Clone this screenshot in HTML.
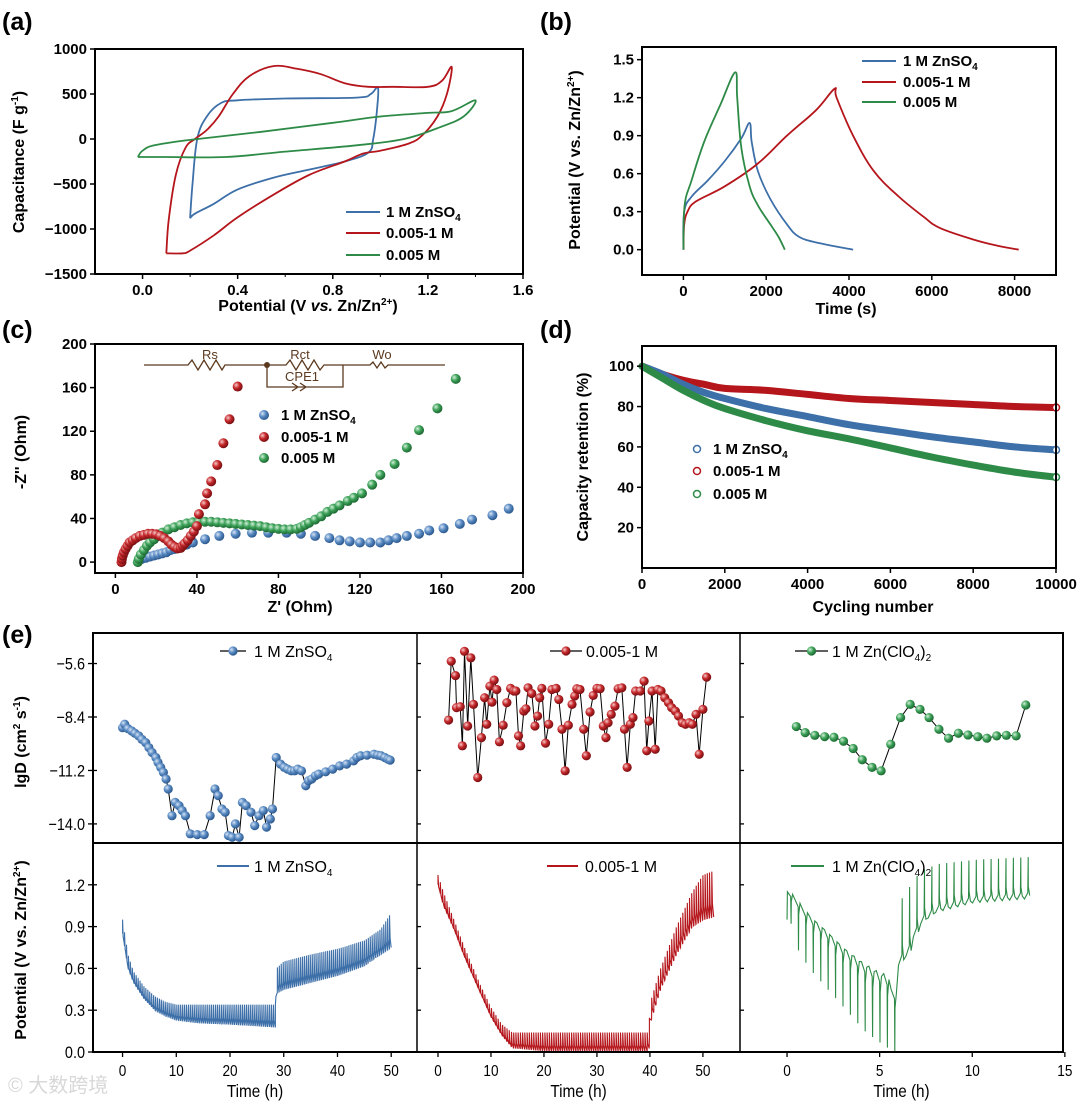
<!DOCTYPE html>
<html><head><meta charset="utf-8"><style>
html,body{margin:0;padding:0;background:#fff}
svg{display:block}
text{font-family:"Liberation Sans",Arial,sans-serif}
</style></head><body>
<svg id="fig" width="1080" height="1107" viewBox="0 0 1080 1107" xmlns="http://www.w3.org/2000/svg">
<defs>
<radialGradient id="gB" cx="35%" cy="35%" r="65%"><stop offset="0" stop-color="#d6e4f5"/><stop offset="0.5" stop-color="#5b8cc4"/><stop offset="1" stop-color="#2d5a90"/></radialGradient>
<radialGradient id="gR" cx="35%" cy="35%" r="65%"><stop offset="0" stop-color="#f5c9c9"/><stop offset="0.5" stop-color="#c6282b"/><stop offset="1" stop-color="#7a0f12"/></radialGradient>
<radialGradient id="gG" cx="35%" cy="35%" r="65%"><stop offset="0" stop-color="#d4f0da"/><stop offset="0.5" stop-color="#3ea35a"/><stop offset="1" stop-color="#1d6a33"/></radialGradient>
</defs>
<g id="root"></g>
</svg>
<script>
// ---------- DATA ----------
// (a) CV curves [V, F/g]
const cvBlue=[[0.2,-880],[0.21,-500],[0.23,0],[0.27,250],[0.33,400],[0.4,430],[0.6,450],[0.9,460],[0.96,500],[0.99,570],[0.985,300],[0.97,0],[0.95,-150],[0.85,-250],[0.7,-340],[0.55,-430],[0.4,-560],[0.3,-720],[0.22,-830],[0.2,-880]];
const cvRed=[[0.1,-1270],[0.11,-900],[0.14,-400],[0.18,-100],[0.22,0],[0.27,100],[0.32,250],[0.38,500],[0.45,700],[0.55,810],[0.65,780],[0.75,720],[0.85,620],[0.95,580],[1.05,580],[1.2,580],[1.26,650],[1.3,800],[1.28,500],[1.24,250],[1.18,50],[1.12,-50],[1.0,-130],[0.93,-160],[0.85,-250],[0.7,-400],[0.55,-620],[0.4,-870],[0.3,-1070],[0.2,-1240],[0.17,-1270],[0.1,-1270]];
const cvGreen=[[-0.02,-200],[0.0,-130],[0.05,-70],[0.2,-10],[0.5,80],[0.8,180],[1.0,250],[1.2,290],[1.3,310],[1.4,430],[1.35,250],[1.25,130],[1.1,0],[0.9,-70],[0.6,-140],[0.35,-200],[0.1,-200],[-0.02,-200]];
// (b) GCD [s, V]
const gcdBlue=[[0,0],[20,0.3],[200,0.42],[600,0.55],[1000,0.7],[1400,0.88],[1600,1.0],[1650,0.85],[1800,0.62],[2100,0.4],[2500,0.2],[2800,0.1],[3300,0.05],[4100,0]];
const gcdRed=[[0,0],[20,0.2],[100,0.3],[300,0.38],[1000,0.5],[1800,0.68],[2500,0.9],[3200,1.1],[3650,1.27],[3700,1.2],[4100,0.9],[4600,0.62],[5200,0.42],[5800,0.26],[6200,0.17],[7000,0.08],[7600,0.03],[8100,0]];
const gcdGreen=[[0,0],[30,0.35],[200,0.55],[500,0.85],[900,1.15],[1250,1.4],[1300,1.2],[1400,0.8],[1600,0.5],[1800,0.35],[2100,0.2],[2300,0.1],[2450,0]];
// (c) Nyquist [Z', -Z'']
const eisBlue=[[13,3],[15,4],[17,5],[19,6],[21,7],[23,8],[25,9],[27,11],[29,12],[31,13],[33,15],[35,16],[38,18],[44,21],[51,24],[59,26],[67,27],[75,27],[84,27],[91,26],[98,24],[105,22],[110,20],[115,19],[120,18],[125,18],[130,18],[134,20],[138,22],[143,24],[149,26],[154,29],[161,31],[169,35],[175,39],[185,43],[193,49]];
const eisRed=[[3,0],[3.2,3],[3.6,6],[4.2,9],[5,12],[6,15],[7,18],[8.5,20],[10,22],[12,24],[14,25],[16,26],[18,26],[20,25.5],[22,24],[24,22],[26,19],[27.5,16],[29,14],[30.5,12.5],[32,13],[33,15],[34,17],[35.5,20],[37,24],[38.5,28],[40,33],[41,44],[44,53],[45,63],[47,74],[50,89],[53,109],[56,131],[60,161]];
const eisGreen=[[11,0],[11.5,3],[12.5,7],[14,11],[15.5,15],[17,18],[19,21],[21,24],[23,27],[26,30],[29,32],[32,34],[35,35.5],[38,36.5],[41,37],[44,37],[47,37],[50,36.5],[53,36],[56,35.5],[59,35],[62,34.5],[65,34],[68,33.5],[71,33],[74,32],[77,31],[80,30.5],[83,30],[86,30],[89,30.5],[91,32],[93,34],[95,36],[98,39],[101,42],[104,46],[107,49],[110,52],[114,56],[117,59],[121,63],[126,71],[130,80],[137,90],[143,105],[149,121],[158,141],[167,168]];
// (d) capacity retention
const cycles=[0,500,1000,1500,2000,3000,4000,5000,6000,7000,8000,9000,10000];
const retRed=[100,96,93,91,89,88,86,84,83,82,81,80,79.5];
const retBlue=[100,96,91,87,84,79,75,71,68,65,62.5,60,58.5];
const retGreen=[100,94,88,83,79,73,68,64,59.5,55,51,47.5,45];
// (e) lgD
const lgdBlueT=[0,0.4,1.0,1.7,2.3,3.0,3.6,4.3,4.9,5.5,6.2,6.6,7.1,7.6,8.1,8.5,9.2,9.8,10.5,11.1,11.7,12.6,13.9,15.2,16.3,17.2,17.8,18.5,19.1,19.7,20.4,21.0,21.7,22.3,23.0,23.9,24.6,25.4,26.2,26.8,27.5,27.9,28.6,29.4,30.1,30.7,31.4,32.0,32.6,33.3,34.1,34.6,35.2,35.9,36.5,37.8,39.1,40.4,41.7,43.0,43.6,44.3,45.5,46.8,47.5,48.1,48.8,49.4,49.8];
const lgdBlueV=[-8.96,-8.78,-9.01,-9.13,-9.25,-9.39,-9.57,-9.74,-10.0,-10.26,-10.52,-10.78,-11.04,-11.3,-11.65,-12.17,-13.57,-12.87,-13.04,-13.3,-13.57,-14.52,-14.56,-14.56,-13.57,-12.17,-12.52,-13.22,-13.39,-14.61,-14.7,-14.0,-14.7,-12.87,-13.04,-13.39,-14.09,-13.57,-13.3,-14.17,-13.74,-13.22,-10.52,-10.87,-11.04,-11.13,-11.22,-11.22,-11.13,-11.22,-12.0,-11.74,-11.65,-11.48,-11.39,-11.27,-11.13,-10.96,-10.87,-10.7,-10.52,-10.43,-10.4,-10.35,-10.4,-10.43,-10.52,-10.61,-10.66];
const lgdRedT=[2.0,2.5,3.3,3.5,4.2,4.6,5.0,5.6,6.2,6.7,7.5,8.2,8.8,9.2,9.8,10.2,10.6,11.1,11.6,12.3,13.0,13.7,14.3,14.7,15.2,15.6,16.2,16.6,17.0,17.7,18.3,18.8,19.2,19.6,20.3,20.9,21.5,22.3,22.8,23.4,24.0,24.6,25.3,25.8,26.2,26.8,27.5,28.0,28.7,29.3,30.0,30.6,31.2,31.7,32.1,32.7,33.4,34.0,34.7,35.2,35.7,36.3,36.8,37.3,38.2,38.9,39.4,39.8,40.4,41.0,41.5,42.1,42.8,43.5,44.1,44.8,45.4,46.1,46.7,47.4,48.0,48.7,49.3,50.0,50.7];
const lgdRedV=[-8.56,-5.48,-6.23,-7.91,-7.86,-9.91,-4.96,-8.87,-5.3,-7.74,-11.57,-9.48,-7.39,-8.78,-6.78,-7.62,-6.47,-6.96,-9.7,-8.83,-7.65,-6.9,-7.04,-7.04,-9.39,-9.91,-8.09,-7.97,-6.87,-7.17,-8.87,-8.35,-7.39,-6.9,-9.77,-8.78,-6.96,-6.9,-7.48,-9.04,-11.22,-8.83,-7.74,-7.3,-6.92,-6.96,-9.04,-10.43,-8.14,-7.27,-6.9,-6.92,-8.87,-9.48,-8.7,-8.26,-7.83,-6.92,-6.87,-9.04,-11.04,-8.78,-8.43,-7.04,-7.04,-6.52,-10.17,-8.61,-7.04,-10.09,-6.96,-7.04,-7.39,-7.65,-7.91,-8.09,-8.35,-8.7,-8.78,-8.7,-8.78,-8.26,-10.35,-8.0,-6.31];
const lgdGreenT=[0.5,0.98,1.5,2.03,2.53,3.05,3.57,4.06,4.59,5.08,5.6,6.13,6.65,7.18,7.67,8.2,8.72,9.25,9.77,10.3,10.79,11.32,11.84,12.37,12.89];
const lgdGreenV=[-8.9,-9.22,-9.36,-9.43,-9.46,-9.67,-10.05,-10.64,-11.04,-11.22,-9.83,-8.43,-7.74,-8.0,-8.43,-9.04,-9.51,-9.25,-9.34,-9.43,-9.51,-9.39,-9.36,-9.39,-7.77];
// (e) GITT envelopes
const gittBlueT=[0,1,2,4,6,8,10,14,20,28.5,28.6,30,35,40,45,48,50];
const gittBlueHi=[0.95,0.7,0.58,0.47,0.4,0.36,0.34,0.34,0.34,0.34,0.6,0.65,0.7,0.74,0.8,0.88,1.0];
const gittBlueLo=[0.85,0.6,0.5,0.38,0.3,0.26,0.23,0.21,0.2,0.18,0.42,0.45,0.5,0.55,0.62,0.7,0.75];
const gittRedT=[0,1,3,5,8,10,12,14,20,30,39.8,40,42,45,48,50,52];
const gittRedHi=[1.27,1.15,0.95,0.75,0.48,0.32,0.2,0.14,0.14,0.14,0.14,0.35,0.6,0.9,1.15,1.27,1.3];
const gittRedLo=[1.2,1.05,0.88,0.68,0.42,0.25,0.12,0.03,0.01,0.01,0.01,0.2,0.45,0.7,0.9,0.95,0.97];
const gittGreenT=[0,0.1,1,2,3,4,5,5.6,5.65,6,6.5,7,8,10,13];
const gittGreenRest=[1.15,1.15,1.0,0.88,0.75,0.65,0.57,0.55,0.3,0.62,0.7,0.9,1.0,1.07,1.1];
const gittGreenPeak=[0.95,0.8,0.6,0.45,0.3,0.15,0.05,0.0,0.0,1.1,1.2,1.3,1.35,1.38,1.4];

// ---------- HELPERS ----------
const NS='http://www.w3.org/2000/svg';
const root=document.getElementById('root');
function el(tag,attrs,parent,txt){const e=document.createElementNS(NS,tag);for(const k in attrs)e.setAttribute(k,attrs[k]);if(txt!==undefined)e.textContent=txt;(parent||root).appendChild(e);return e;}
function lin(d0,d1,p0,p1){return v=>p0+(v-d0)/(d1-d0)*(p1-p0);}
function interp(ts,vs,t){if(t<=ts[0])return vs[0];for(let i=1;i<ts.length;i++){if(t<=ts[i]){const f=(t-ts[i-1])/(ts[i]-ts[i-1]);return vs[i-1]+f*(vs[i]-vs[i-1]);}}return vs[vs.length-1];}
const C={blue:'#3d6fa8',red:'#b5161c',green:'#2e8b47'};
function box(x0,y0,x1,y1,name,sw){const r=el('rect',{x:x0,y:y0,width:x1-x0,height:y1-y0,fill:'none',stroke:'#000','stroke-width':sw||2});return r;}
function txt(x,y,s,opt){const o=Object.assign({'font-size':15,'font-weight':'bold','text-anchor':'middle',fill:'#000'},opt||{});const t=el('text',Object.assign({x:x,y:y},o));t.innerHTML=s;return t;}
function pathFrom(pts,sx,sy){return pts.map((p,i)=>(i?'L':'M')+sx(p[0]).toFixed(1)+','+sy(p[1]).toFixed(1)).join('');}
function smoothPath(pts,sx,sy){const P=pts.map(p=>[sx(p[0]),sy(p[1])]);let d='M'+P[0][0].toFixed(1)+','+P[0][1].toFixed(1);
 for(let i=0;i<P.length-1;i++){const p0=P[Math.max(0,i-1)],p1=P[i],p2=P[i+1],p3=P[Math.min(P.length-1,i+2)];const t=0.18;
 const c1=[p1[0]+(p2[0]-p0[0])*t,p1[1]+(p2[1]-p0[1])*t],c2=[p2[0]-(p3[0]-p1[0])*t,p2[1]-(p3[1]-p1[1])*t];
 d+='C'+c1[0].toFixed(1)+','+c1[1].toFixed(1)+' '+c2[0].toFixed(1)+','+c2[1].toFixed(1)+' '+p2[0].toFixed(1)+','+p2[1].toFixed(1);}return d;}

// ---------- PANEL A ----------
(function(){
const g=el('g',{});
const X0=95,X1=523,Y0=49,Y1=274;const sx=lin(-0.2,1.6,X0,X1),sy=lin(-1500,1000,Y1,Y0);
[[cvBlue,C.blue,'cv-1m-znso4'],[cvRed,C.red,'cv-0005-1m'],[cvGreen,C.green,'cv-0005m']].forEach(s=>{const p=el('path',{d:smoothPath(s[0],sx,sy),fill:'none',stroke:s[1],'stroke-width':1.8,'stroke-linejoin':'round'},g);});
box(X0,Y0,X1,Y1,'panel-a-frame');
[0,0.4,0.8,1.2,1.6].forEach(v=>{el('line',{x1:sx(v),x2:sx(v),y1:Y1,y2:Y1+5,stroke:'#000','stroke-width':1.5},g);txt(sx(v),Y1+21,v.toFixed(1));});
[0.2,0.6,1.0,1.4].forEach(v=>el('line',{x1:sx(v),x2:sx(v),y1:Y1,y2:Y1+3,stroke:'#000','stroke-width':1},g));
[1000,500,0,-500,-1000,-1500].forEach(v=>{el('line',{x1:X0-5,x2:X0,y1:sy(v),y2:sy(v),stroke:'#000','stroke-width':1.5},g);txt(X0-8,sy(v)+5,String(v).replace('-','−'),{'text-anchor':'end'});});
txt(308,311,'Potential (V <tspan font-style="italic">vs.</tspan> Zn/Zn<tspan font-size="10" dy="-6">2+</tspan><tspan dy="6">)</tspan>',{'font-size':16});
txt(0,0,'Capacitance (F g<tspan font-size="10" dy="-6">-1</tspan><tspan dy="6">)</tspan>',{'font-size':16,transform:'translate(24,162) rotate(-90)'});
txt(2,30,'(a)',{'font-size':25,'text-anchor':'start'});
[[C.blue,'1 M ZnSO<tspan font-size="10" dy="4">4</tspan>',212],[C.red,'0.005-1 M',233],[C.green,'0.005 M',255]].forEach(l=>{el('line',{x1:346,x2:380,y1:l[2],y2:l[2],stroke:l[0],'stroke-width':2},g);txt(386,l[2]+5,l[1],{'text-anchor':'start'});});
})();

// ---------- PANEL B ----------
(function(){
const g=el('g',{});
const X0=642,X1=1056,Y0=47,Y1=275;const sx=lin(-1000,9000,X0,X1),sy=lin(-0.2,1.6,Y1,Y0);
[[gcdBlue,C.blue,'gcd-1m-znso4'],[gcdRed,C.red,'gcd-0005-1m'],[gcdGreen,C.green,'gcd-0005m']].forEach(s=>{const p=el('path',{d:smoothPath(s[0],sx,sy),fill:'none',stroke:s[1],'stroke-width':1.8,'stroke-linejoin':'round'},g);});
box(X0,Y0,X1,Y1,'panel-b-frame');
[0,2000,4000,6000,8000].forEach(v=>{el('line',{x1:sx(v),x2:sx(v),y1:Y1,y2:Y1+5,stroke:'#000','stroke-width':1.5},g);txt(sx(v),Y1+21,String(v));});
[0,0.3,0.6,0.9,1.2,1.5].forEach(v=>{el('line',{x1:X0-5,x2:X0,y1:sy(v),y2:sy(v),stroke:'#000','stroke-width':1.5},g);txt(X0-8,sy(v)+5,v.toFixed(1),{'text-anchor':'end'});});
txt(846,314,'Time (s)',{'font-size':16});
txt(0,0,'Potential (V vs. Zn/Zn<tspan font-size="10" dy="-6">2+</tspan><tspan dy="6">)</tspan>',{'font-size':16,transform:'translate(580,160) rotate(-90)'});
txt(540,30,'(b)',{'font-size':25,'text-anchor':'start'});
[[C.blue,'1 M ZnSO<tspan font-size="10" dy="4">4</tspan>',61],[C.red,'0.005-1 M',82],[C.green,'0.005 M',102]].forEach(l=>{el('line',{x1:862,x2:896,y1:l[2],y2:l[2],stroke:l[0],'stroke-width':2},g);txt(903,l[2]+5,l[1],{'text-anchor':'start'});});
})();

// ---------- PANEL C ----------
(function(){
const g=el('g',{});
const X0=95,X1=523,Y0=344,Y1=573;const sx=lin(-10,200,X0,X1),sy=lin(-10,200,Y1,Y0);
[[eisBlue,'url(#gB)','eis-1m-znso4'],[eisGreen,'url(#gG)','eis-0005m'],[eisRed,'url(#gR)','eis-0005-1m']].forEach(s=>{const sg=el('g',{},g);s[0].forEach(p=>{const c=el('circle',{cx:sx(p[0]),cy:sy(p[1]),r:5,fill:s[1]},sg);});});
box(X0,Y0,X1,Y1,'panel-c-frame');
[0,40,80,120,160,200].forEach(v=>{el('line',{x1:sx(v),x2:sx(v),y1:Y1,y2:Y1+5,stroke:'#000','stroke-width':1.5},g);txt(sx(v),Y1+21,String(v));});
[0,40,80,120,160,200].forEach(v=>{el('line',{x1:X0-5,x2:X0,y1:sy(v),y2:sy(v),stroke:'#000','stroke-width':1.5},g);txt(X0-8,sy(v)+5,String(v),{'text-anchor':'end'});});
txt(300,612,"Z' (Ohm)",{'font-size':16});
txt(0,0,"-Z'' (Ohm)",{'font-size':16,transform:'translate(26,452) rotate(-90)'});
txt(2,338,'(c)',{'font-size':25,'text-anchor':'start'});
const br='#5b3a20';const cg=el('g',{stroke:br,'stroke-width':1.3,fill:'none'},g);
el('path',{d:'M144,365 H188 l4,-5 l6,10 l6,-10 l6,10 l6,-10 l6,10 l3,-5 H267 H286 l4,-5 l6,10 l6,-10 l6,10 l6,-10 l6,10 l4,-5 H370 l3,-3 l4,6 l4,-6 l4,6 l3,-3 H445'},cg);
el('path',{d:'M267,365 V387 H343 V365 M292,383 l6,4 l-6,4 M300,383 l6,4 l-6,4'},cg);
el('circle',{cx:267,cy:365,r:3,fill:br,stroke:'none'},cg);
txt(210,359,'Rs',{'font-size':13,'font-weight':'normal',fill:br});txt(300,359,'Rct',{'font-size':13,'font-weight':'normal',fill:br});
txt(302,381,'CPE1',{'font-size':13,'font-weight':'normal',fill:br});txt(382,359,'Wo',{'font-size':13,'font-weight':'normal',fill:br});
[['url(#gB)','1 M ZnSO<tspan font-size="10" dy="4">4</tspan>',415],['url(#gR)','0.005-1 M',437],['url(#gG)','0.005 M',458]].forEach(l=>{el('circle',{cx:264,cy:l[2],r:5,fill:l[0]},g);txt(281,l[2]+5,l[1],{'text-anchor':'start'});});
})();

// ---------- PANEL D ----------
(function(){
const g=el('g',{});
const X0=642,X1=1056,Y0=346,Y1=568;const sx=lin(0,10000,X0,X1),sy=lin(0,110,Y1,Y0);
[[retRed,C.red,'retention-0005-1m'],[retBlue,C.blue,'retention-1m-znso4'],[retGreen,C.green,'retention-0005m']].forEach(s=>{const pts=cycles.map((c,i)=>[c,s[0][i]]);const p=el('path',{d:smoothPath(pts,sx,sy),fill:'none',stroke:s[1],'stroke-width':7,'stroke-linejoin':'round','stroke-linecap':'round'},g);
const e=el('circle',{cx:sx(cycles[cycles.length-1]),cy:sy(s[0][s[0].length-1]),r:3.5,fill:'#fff',stroke:s[1],'stroke-width':1.5},g);});
box(X0,Y0,X1,Y1,'panel-d-frame');
[0,2000,4000,6000,8000,10000].forEach(v=>{el('line',{x1:sx(v),x2:sx(v),y1:Y1,y2:Y1+5,stroke:'#000','stroke-width':1.5},g);txt(sx(v),Y1+21,String(v));});
[20,40,60,80,100].forEach(v=>{el('line',{x1:X0-5,x2:X0,y1:sy(v),y2:sy(v),stroke:'#000','stroke-width':1.5},g);txt(X0-8,sy(v)+5,String(v),{'text-anchor':'end'});});
txt(873,612,'Cycling number',{'font-size':16});
txt(0,0,'Capacity retention (%)',{'font-size':16,transform:'translate(588,457) rotate(-90)'});
txt(540,338,'(d)',{'font-size':25,'text-anchor':'start'});
[[C.blue,'1 M ZnSO<tspan font-size="10" dy="4">4</tspan>',449],[C.red,'0.005-1 M',471],[C.green,'0.005 M',494]].forEach(l=>{el('circle',{cx:697,cy:l[2],r:3.5,fill:'#fff',stroke:l[0],'stroke-width':1.5},g);txt(713,l[2]+5,l[1],{'text-anchor':'start'});});
})();

// ---------- PANEL E ----------
(function(){
const g=el('g',{});
const YT=633,YM=843,YB=1052;
const cols=[{x0:93,x1:417,xd:[-5.5,54.8],ticks:[0,10,20,30,40,50]},{x0:417,x1:740,xd:[-3.96,57],ticks:[0,10,20,30,40,50]},{x0:740,x1:1063,xd:[-2.54,14.9],ticks:[0,5,10,15]}];
const syT=lin(-15,-4,YM,YT),syB=lin(0,1.5,YB,YM);
const lgd=[[lgdBlueT,lgdBlueV,'url(#gB)','lgd-1m-znso4'],[lgdRedT,lgdRedV,'url(#gR)','lgd-0005-1m'],[lgdGreenT,lgdGreenV,'url(#gG)','lgd-1m-znclo4']];
cols.forEach((c,i)=>{
  const sx=lin(c.xd[0],c.xd[1],c.x0,c.x1);
  const s=lgd[i];const pts=s[0].map((t,k)=>[t,s[1][k]]);
  const sg=el('g',{},g);
  el('path',{d:pathFrom(pts,sx,syT),fill:'none',stroke:'#000','stroke-width':1},sg);
  pts.forEach(p=>{const m=el('circle',{cx:sx(p[0]),cy:syT(p[1]),r:4.6,fill:s[2]},sg);});
  let d='';
  if(i<2){
    const T=i?gittRedT:gittBlueT,H=i?gittRedHi:gittBlueHi,L=i?gittRedLo:gittBlueLo,per=i?0.42:0.36,col=i?C.red:C.blue;
    const tEnd=T[T.length-1];
    for(let t=0;t<tEnd;t+=per){
      const hi=interp(T,H,t),lo=interp(T,L,t+per*0.8);
      d+=(d?'L':'M')+sx(t).toFixed(1)+','+syB(interp(T,L,t)).toFixed(1);
      d+='L'+sx(t+0.01).toFixed(1)+','+syB(hi).toFixed(1);
      d+='L'+sx(t+per*0.3).toFixed(1)+','+syB(lo+(hi-lo)*0.3).toFixed(1);
      d+='L'+sx(t+per*0.9).toFixed(1)+','+syB(lo).toFixed(1);
    }
    const p=el('path',{d:d,fill:'none',stroke:col,'stroke-width':1.1},g);
  } else {
    const T=gittGreenT,R=gittGreenRest,P=gittGreenPeak,per=0.4;
    d='M'+sx(0)+','+syB(interp(T,P,0));
    for(let t=0.02;t<13.2;t+=per){
      const r=interp(T,R,t),pk=interp(T,P,t);
      d+='L'+sx(t).toFixed(1)+','+syB(r).toFixed(1);
      d+='L'+sx(t+per*0.45).toFixed(1)+','+syB(r-(r-pk)*0.15).toFixed(1);
      d+='L'+sx(t+per*0.5).toFixed(1)+','+syB(pk).toFixed(1);
      d+='L'+sx(t+per*0.52).toFixed(1)+','+syB(r+(pk-r)*0.3).toFixed(1);
      d+='L'+sx(t+per*0.7).toFixed(1)+','+syB(r+(pk-r)*0.08).toFixed(1);
    }
    const p=el('path',{d:d,fill:'none',stroke:C.green,'stroke-width':1.1},g);
  }
  c.ticks.forEach(v=>{el('line',{x1:sx(v),x2:sx(v),y1:YB,y2:YB+5,stroke:'#000','stroke-width':1.3},g);txt(sx(v),YB+24,String(v),{'font-size':16,'font-weight':'normal',transform:'translate('+(sx(v)*0.15)+',0) scale(0.85,1)'});});
  const ctr=(c.x0+c.x1)/2;
  txt(ctr/0.85,1097,'Time (h)',{'font-size':18,'font-weight':'normal',transform:'scale(0.85,1)'});
  [-5.6,-8.4,-11.2,-14].forEach(v=>el('line',{x1:c.x0,x2:c.x0+4,y1:syT(v),y2:syT(v),stroke:'#000','stroke-width':1.3},g));
  [0,0.3,0.6,0.9,1.2].forEach(v=>el('line',{x1:c.x0,x2:c.x0+4,y1:syB(v),y2:syB(v),stroke:'#000','stroke-width':1.3},g));
});
box(93,YT,1063,YB,'panel-e-frame');
el('line',{x1:93,x2:1063,y1:YM,y2:YM,stroke:'#000','stroke-width':2},g);
el('line',{x1:417,x2:417,y1:YT,y2:YB,stroke:'#000','stroke-width':1.5},g);
el('line',{x1:740,x2:740,y1:YT,y2:YB,stroke:'#000','stroke-width':1.5},g);
[-5.6,-8.4,-11.2,-14].forEach(v=>{el('line',{x1:88,x2:93,y1:syT(v),y2:syT(v),stroke:'#000','stroke-width':1.3},g);txt(85/0.85,syT(v)+6,v.toFixed(1).replace('-','−'),{'font-size':17,'font-weight':'normal','text-anchor':'end',transform:'scale(0.85,1)'});});
[0,0.3,0.6,0.9,1.2].forEach(v=>{el('line',{x1:88,x2:93,y1:syB(v),y2:syB(v),stroke:'#000','stroke-width':1.3},g);txt(85/0.85,syB(v)+6,v.toFixed(1),{'font-size':17,'font-weight':'normal','text-anchor':'end',transform:'scale(0.85,1)'});});
txt(0,0,'lgD (cm<tspan font-size="10" dy="-6">2</tspan><tspan dy="6"> s</tspan><tspan font-size="10" dy="-6">-1</tspan><tspan dy="6">)</tspan>',{'font-size':16,transform:'translate(26,742) rotate(-90)'});
txt(0,0,'Potential (V vs. Zn/Zn<tspan font-size="10" dy="-6">2+</tspan><tspan dy="6">)</tspan>',{'font-size':16,transform:'translate(26,950) rotate(-90)'});
txt(2,643,'(e)',{'font-size':25,'text-anchor':'start'});
const legT=[[220,246,254,'url(#gB)','1 M ZnSO<tspan font-size="10" dy="4">4</tspan>'],[550,582,586,'url(#gR)','0.005-1 M'],[795,828,832,'url(#gG)','1 M Zn(ClO<tspan font-size="10" dy="4">4</tspan><tspan dy="-4">)</tspan><tspan font-size="10" dy="4">2</tspan>']];
legT.forEach(l=>{el('line',{x1:l[0],x2:l[1],y1:651,y2:651,stroke:'#000','stroke-width':1.3},g);el('circle',{cx:(l[0]+l[1])/2,cy:651,r:4.6,fill:l[3]},g);txt(l[2],657,l[4],{'font-size':16,'font-weight':'normal','text-anchor':'start'});});
const legB=[[217,249,254,C.blue,'1 M ZnSO<tspan font-size="10" dy="4">4</tspan>'],[547,578,585,C.red,'0.005-1 M'],[791,824,832,C.green,'1 M Zn(ClO<tspan font-size="10" dy="4">4</tspan><tspan dy="-4">)</tspan><tspan font-size="10" dy="4">2</tspan>']];
legB.forEach(l=>{el('line',{x1:l[0],x2:l[1],y1:866,y2:866,stroke:l[3],'stroke-width':2},g);txt(l[2],872,l[4],{'font-size':16,'font-weight':'normal','text-anchor':'start'});});
})();
const wm=txt(8,1092,'© 大数跨境',{'font-size':20,'font-weight':'normal','text-anchor':'start',fill:'#d8d8d8',style:'font-family:"Liberation Sans","Noto Sans CJK SC",sans-serif'});


</script>
</body></html>
